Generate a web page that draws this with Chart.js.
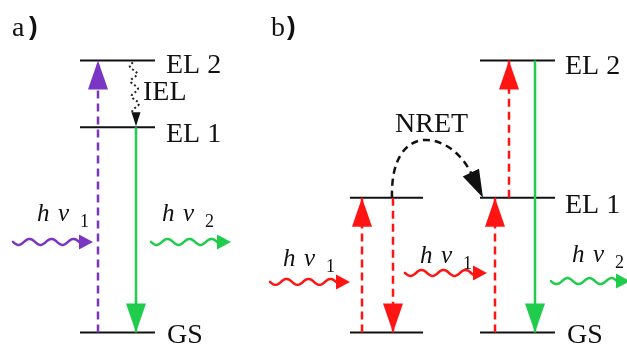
<!DOCTYPE html>
<html>
<head>
<meta charset="utf-8">
<script src="https://cdn.jsdelivr.net/npm/chart.js@4.4.1/dist/chart.umd.min.js"></script>
<style>
  html, body { margin: 0; padding: 0; background: #fff; }
  #wrap { width: 627px; height: 345px; }
</style>
</head>
<body>
<div id="wrap"><canvas id="diagram" width="627" height="345"></canvas></div>
<script>
// energy levels, relative units (GS = 0, EL 2 = 1)
const levelNames = ['GS', 'EL 1', 'EL 2'];
const levelsA = [0, 0.755, 1.0];          // a) single centre
const levelsDonor = [0, 0.495];           // b) donor (sensitizer)
const levelsAcceptor = [0, 0.495, 1.0];   // b) acceptor
const photonNames = ['1', '1', '2', '1', '1', '2'];   // subscripts of hν
const photonEnergy = [0.333, 0.333, 0.186, 0.219, 0.189];

const purple = '#7a35c4';
const green = '#1fcc4c';
const red = '#ff1414';

// horizontal layout (x in canvas units)
const spanA = [80, 155], spanDonor = [350, 423], spanAcc = [480, 555];

function level(span, e) {
  return { data: [{x: span[0], y: e}, {x: span[1], y: e}], borderColor: '#111',
           borderWidth: 2, order: 2 };
}
function transition(x, e0, e1, color, dashed) {
  return { data: [{x: x, y: e0}, {x: x, y: e1}], borderColor: color, borderWidth: 2.5,
           borderDash: dashed ? [8, 5] : [], order: 1, arrow: true };
}

const datasets = [];
levelsA.forEach(e => datasets.push(level(spanA, e)));
levelsDonor.forEach(e => datasets.push(level(spanDonor, e)));
levelsAcceptor.forEach(e => datasets.push(level(spanAcc, e)));

datasets.push(transition(98, levelsA[0], levelsA[2], purple, true));
datasets.push(transition(136, levelsA[1], levelsA[0], green, false));
datasets.push(transition(362, levelsDonor[0], levelsDonor[1], red, true));
datasets.push(transition(393, levelsDonor[1], levelsDonor[0], red, true));
datasets.push(transition(495, levelsAcceptor[0], levelsAcceptor[1], red, true));
datasets.push(transition(509, levelsAcceptor[1], levelsAcceptor[2], red, true));
datasets.push(transition(535, levelsAcceptor[2], levelsAcceptor[0], green, false));

function head(ctx, tx, ty, dx, dy, len, w, color) {
  const n = Math.hypot(dx, dy), ux = dx / n, uy = dy / n;
  const bx = tx - ux * len, by = ty - uy * len;
  ctx.beginPath();
  ctx.moveTo(tx, ty);
  ctx.lineTo(bx - uy * w / 2, by + ux * w / 2);
  ctx.lineTo(bx + uy * w / 2, by - ux * w / 2);
  ctx.closePath();
  ctx.fillStyle = color;
  ctx.fill();
}

function photon(ctx, x0, x1, y, color) {
  const tip = x1, base = x1 - 13;
  ctx.save();
  ctx.strokeStyle = color; ctx.lineWidth = 2.5; ctx.lineCap = 'round';
  ctx.beginPath();
  for (let x = x0; x <= base; x += 1) {
    const yy = y + 3 * Math.sin((x - x0) / 22 * 2 * Math.PI);
    if (x === x0) ctx.moveTo(x, yy); else ctx.lineTo(x, yy);
  }
  ctx.stroke();
  head(ctx, tip, y, 1, 0, 14, 15, color);
  ctx.restore();
}

function hnu(ctx, x, y, sub) {
  ctx.save();
  ctx.fillStyle = '#111';
  ctx.textBaseline = 'alphabetic';
  ctx.font = 'italic 25px "Liberation Serif"';
  ctx.fillText('h', x, y);
  ctx.fillText('ν', x + 21, y);
  ctx.font = '18px "Liberation Serif"';
  ctx.fillText(sub, x + 43, y + 6);
  ctx.restore();
}

const decor = {
  id: 'decor',
  afterDatasetsDraw(chart) {
    const ctx = chart.ctx;
    const px = v => chart.scales.x.getPixelForValue(v);
    const py = v => chart.scales.y.getPixelForValue(v);

    // arrowheads on transitions
    chart.data.datasets.forEach((ds, i) => {
      if (!ds.arrow) return;
      const pts = chart.getDatasetMeta(i).data;
      const a = pts[0], b = pts[1];
      head(ctx, b.x, b.y, b.x - a.x, b.y - a.y, 29, 20, ds.borderColor);
    });

    // IEL: dotted wavy relaxation EL 2 -> EL 1
    ctx.save();
    const y0 = py(levelsA[2]) + 2, y1 = py(levelsA[1]) - 13;
    ctx.strokeStyle = '#222'; ctx.lineWidth = 2; ctx.setLineDash([2, 2.5]);
    ctx.beginPath();
    for (let y = y0; y <= y1; y += 1) {
      const t = (y - y0) / (y1 - y0);
      const xx = 133 + 3 * t - 3.5 * Math.sin((y - y0) / 15 * 2 * Math.PI);
      if (y === y0) ctx.moveTo(xx, y); else ctx.lineTo(xx, y);
    }
    ctx.stroke();
    ctx.restore();
    head(ctx, 136, py(levelsA[1]) - 1, 0, 1, 14, 9, '#111');

    // NRET: dashed arc donor EL 1 -> acceptor EL 1
    const yd = py(levelsDonor[1]);
    ctx.save();
    ctx.strokeStyle = '#111'; ctx.lineWidth = 2.5; ctx.setLineDash([7, 5]);
    ctx.beginPath();
    ctx.moveTo(392, yd);
    ctx.bezierCurveTo(390, 120, 450, 130, 471, 173);
    ctx.stroke();
    ctx.restore();
    head(ctx, 483, py(levelsAcceptor[1]), 12, 25, 28, 18, '#111');

    // photons
    photon(ctx, 13, 93, py(photonEnergy[0]), purple);
    photon(ctx, 151, 231, py(photonEnergy[1]), green);
    photon(ctx, 270, 350, py(photonEnergy[2]), red);
    photon(ctx, 405, 487, py(photonEnergy[3]), red);
    photon(ctx, 551, 630, py(photonEnergy[4]), green);

    hnu(ctx, 37, 221, photonNames[0]);
    hnu(ctx, 162, 221, photonNames[2]);
    hnu(ctx, 283, 266, photonNames[3]);
    hnu(ctx, 420, 263, photonNames[4]);
    hnu(ctx, 572, 262, photonNames[5]);

    // level labels
    ctx.save();
    ctx.fillStyle = '#111';
    ctx.font = '28px "Liberation Serif"';
    ctx.fillText(levelNames[2], 166, py(levelsA[2]) + 13);
    ctx.fillText(levelNames[1], 166, py(levelsA[1]) + 15);
    ctx.fillText(levelNames[0], 167, py(levelsA[0]) + 11);
    ctx.fillText(levelNames[2], 565, py(levelsAcceptor[2]) + 14);
    ctx.fillText(levelNames[1], 565, py(levelsAcceptor[1]) + 15);
    ctx.fillText(levelNames[0], 567, py(levelsAcceptor[0]) + 11);
    ctx.fillText('IEL', 143, 100);
    ctx.fillText('NRET', 395, 132);
    ctx.fillText('a', 12, 36);
    ctx.fillText('b', 271, 36);
    ctx.font = 'bold 26px "Liberation Sans"';
    ctx.fillText(')', 29, 35);
    ctx.fillText(')', 287, 35);
    ctx.restore();
  }
};

new Chart(document.getElementById('diagram'), {
  type: 'scatter',
  data: { datasets: datasets },
  options: {
    responsive: false,
    animation: false,
    showLine: true,
    elements: { point: { radius: 0, hoverRadius: 0 } },
    layout: { padding: 0 },
    plugins: { legend: { display: false }, tooltip: { enabled: false } },
    scales: {
      x: { type: 'linear', display: false, min: 0, max: 627 },
      y: { type: 'linear', display: false, min: -0.046, max: 1.2224 }
    }
  },
  plugins: [decor]
});
</script>
</body>
</html>
